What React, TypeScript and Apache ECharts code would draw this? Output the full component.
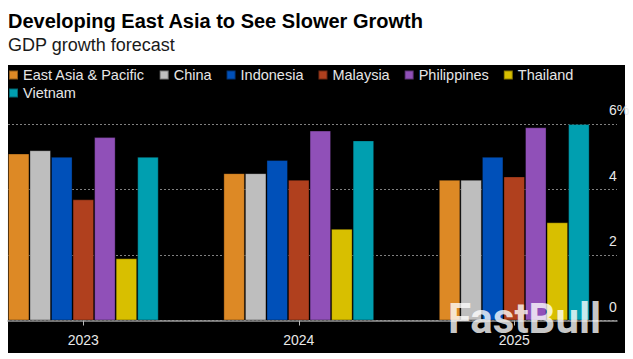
import React, { useEffect, useRef } from "react";
import * as echarts from "echarts";

const categories = ["2023", "2024", "2025"];
const seriesNames = [
  "East Asia & Pacific",
  "China",
  "Indonesia",
  "Malaysia",
  "Philippines",
  "Thailand",
  "Vietnam",
];
const eastAsiaPacific = [5.1, 4.5, 4.3];
const china = [5.2, 4.5, 4.3];
const indonesia = [5.0, 4.9, 5.0];
const malaysia = [3.7, 4.3, 4.4];
const philippines = [5.6, 5.8, 5.9];
const thailand = [1.9, 2.8, 3.0];
const vietnam = [5.0, 5.5, 6.0];
const yTicks = [0, 2, 4, 6];

const seriesValues = [eastAsiaPacific, china, indonesia, malaysia, philippines, thailand, vietnam];
const colors = ["#DD8925", "#BEBEBE", "#0050B9", "#B0401E", "#9050B8", "#D8BF00", "#009FB0"];

const FONT = "Liberation Sans";
const OX = 25; // container is shifted left by this amount so the first band can start off-panel

export default function App() {
  const ref = useRef<HTMLDivElement>(null);
  useEffect(() => {
    if (!ref.current) return;
    const chart = echarts.init(ref.current, null, { renderer: "svg" });
    const top = 124;
    const bottom = 38.5;
    chart.setOption({
      animation: false,
      backgroundColor: "#ffffff",
      title: [
        {
          text: "Developing East Asia to See Slower Growth",
          left: 8 + OX,
          top: 11,
          padding: 0,
          textStyle: { fontFamily: FONT, fontSize: 20, fontWeight: "bold", color: "#000", lineHeight: 20 },
        },
        {
          text: "GDP growth forecast",
          left: 8 + OX,
          top: 36,
          padding: 0,
          textStyle: { fontFamily: FONT, fontSize: 18, fontWeight: "normal", color: "#1a1a1a", lineHeight: 18 },
        },
      ],
      graphic: [
        {
          type: "rect",
          z: -10,
          silent: true,
          shape: { x: 8 + OX, y: 65, width: 617, height: 288 },
          style: { fill: "#000000" },
        },
        {
          type: "text",
          z: 100,
          silent: true,
          x: 448 + OX,
          y: 318,
          style: {
            text: "FastBull",
            fontFamily: "Roboto",
            fontSize: 42,
            fontWeight: "bold",
            fill: "rgba(255,255,255,0.78)",
            verticalAlign: "middle",
          },
        },
      ],
      legend: [
        {
          data: seriesNames.slice(0, 6),
          left: 8 + OX,
          top: 67,
          padding: 0,
          itemWidth: 9,
          itemHeight: 9,
          itemGap: 14,
          icon: "rect",
          textStyle: { fontFamily: FONT, fontSize: 14.5, color: "#e6e6e6", lineHeight: 16 },
        },
        {
          data: seriesNames.slice(6),
          left: 8 + OX,
          top: 85,
          padding: 0,
          itemWidth: 9,
          itemHeight: 9,
          itemGap: 14,
          icon: "rect",
          textStyle: { fontFamily: FONT, fontSize: 14.5, color: "#e6e6e6", lineHeight: 16 },
        },
      ],
      grid: [
        { left: 0.6, right: 11.05, top, bottom },
        { left: 8 + OX, right: 16, top, bottom },
      ],
      xAxis: [
        {
          type: "category",
          gridIndex: 0,
          data: categories,
          axisLine: { show: false },
          axisTick: { show: true, alignWithLabel: true, length: 5, lineStyle: { color: "#bbbbbb", width: 1 } },
          axisLabel: { fontFamily: FONT, fontSize: 14, color: "#e8e8e8", margin: 12 },
          splitLine: { show: false },
          z: 110,
        },
        {
          type: "value",
          gridIndex: 1,
          min: 0,
          max: 1,
          axisLine: { show: true, onZero: false, lineStyle: { color: "#9a9a9a", width: 1.5 } },
          axisTick: { show: false },
          axisLabel: { show: false },
          splitLine: { show: false },
        },
      ],
      yAxis: [
        {
          type: "value",
          gridIndex: 0,
          min: 0,
          max: 6,
          interval: 2,
          show: false,
        },
        {
          type: "value",
          gridIndex: 1,
          position: "right",
          min: 0,
          max: 6,
          interval: 2,
          axisLine: { show: false },
          axisTick: { show: false },
          splitLine: { show: true, lineStyle: { color: "#808080", type: [2, 2], width: 1 } },
          axisLabel: {
            fontFamily: FONT,
            fontSize: 14,
            color: "#e8e8e8",
            margin: -8,
            align: "left",
            verticalAlign: "bottom",
            lineHeight: 28,
            formatter: (v: number) => (v === yTicks[yTicks.length - 1] ? `${v}%` : `${v}`),
          },
        },
      ],
      series: seriesNames.map((name, i) => ({
        name,
        type: "bar",
        xAxisIndex: 0,
        yAxisIndex: 0,
        data: seriesValues[i],
        barGap: "0%",
        barCategoryGap: "30%",
        itemStyle: { color: colors[i], borderColor: "rgba(0,0,0,0.35)", borderWidth: 1 },
      })),
    });
    return () => chart.dispose();
  }, []);
  return (
    <div
      ref={ref}
      style={{ position: "absolute", left: -OX, top: 0, width: 633 + OX, height: 359 }}
    />
  );
}
